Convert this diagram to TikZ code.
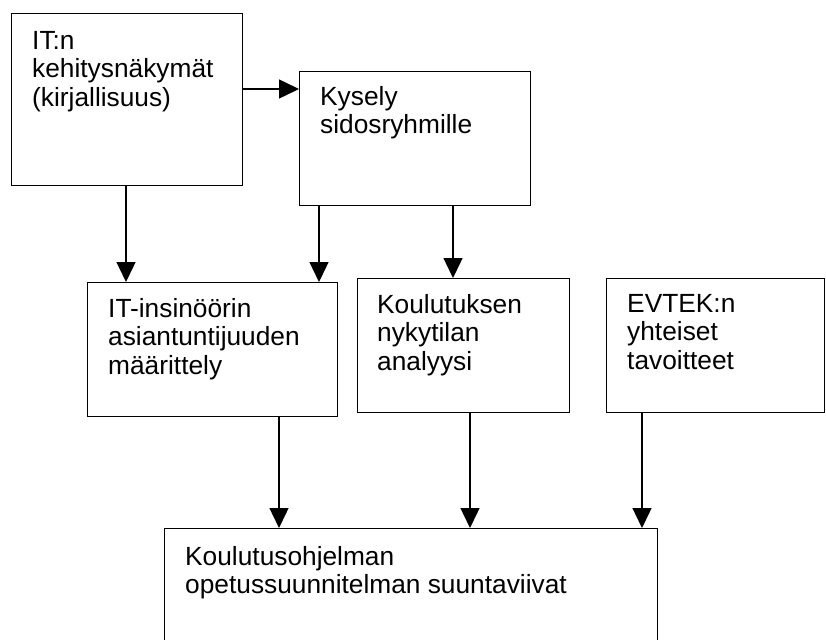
\documentclass[tikz,border=0pt]{standalone}
\usepackage{fontspec}
\setmainfont{Liberation Sans}
\usetikzlibrary{arrows.meta}
\begin{document}
\begin{tikzpicture}[x=1pt,y=-1pt,
  box/.style={draw, line width=1.4pt, inner sep=0pt, anchor=north west},
  txt/.style={anchor=north west, inner sep=0pt, align=left,
    font=\fontsize{26.3}{28.4}\selectfont},
  arr/.style={line width=1.4pt, -{Triangle[length=20pt,width=19pt]}}]
\useasboundingbox (0,0) rectangle (826,639);
% boxes
\node[box, minimum width=231pt, minimum height=172pt] (b1) at (11,13) {};
\node[box, minimum width=231pt, minimum height=134pt] (b2) at (299,71) {};
\node[box, minimum width=250pt, minimum height=134pt] (b3) at (87,282) {};
\node[box, minimum width=212pt, minimum height=134pt] (b4) at (357,278) {};
\node[box, minimum width=218pt, minimum height=134pt] (b5) at (606,278) {};
\node[box, minimum width=493pt, minimum height=140pt] (b6) at (164,528) {};
% texts
\node[txt] (t1) at (32,31) {IT:n\\kehitysn\"akym\"at\\(kirjallisuus)};
\node[txt] (t2) at (320,86) {Kysely\\sidosryhmille};
\node[txt] (t3) at (108,298) {IT-insin\"o\"orin\\asiantuntijuuden\\m\"a\"arittely};
\node[txt] (t4) at (377,294) {Koulutuksen\\nykytilan\\analyysi};
\node[txt] (t5) at (627,294) {EVTEK:n\\yhteiset\\tavoitteet};
\node[txt] (t6) at (185,546) {Koulutusohjelman\\opetussuunnitelman suuntaviivat};
% connector positions
\coordinate (r1) at (0,89);
\coordinate (c1) at (126,0);
\coordinate (c2) at (319,0);
\coordinate (c3) at (453,0);
\coordinate (c4) at (279,0);
\coordinate (c5) at (470,0);
\coordinate (c6) at (642,0);
% connectors
\draw[arr] (b1.east |- r1) -- (b2.west |- r1);
\draw[arr] (b1.south -| c1) -- (b3.north -| c1);
\draw[arr] (b2.south -| c2) -- (b3.north -| c2);
\draw[arr] (b2.south -| c3) -- (b4.north -| c3);
\draw[arr] (b3.south -| c4) -- (b6.north -| c4);
\draw[arr] (b4.south -| c5) -- (b6.north -| c5);
\draw[arr] (b5.south -| c6) -- (b6.north -| c6);
\end{tikzpicture}
\end{document}
